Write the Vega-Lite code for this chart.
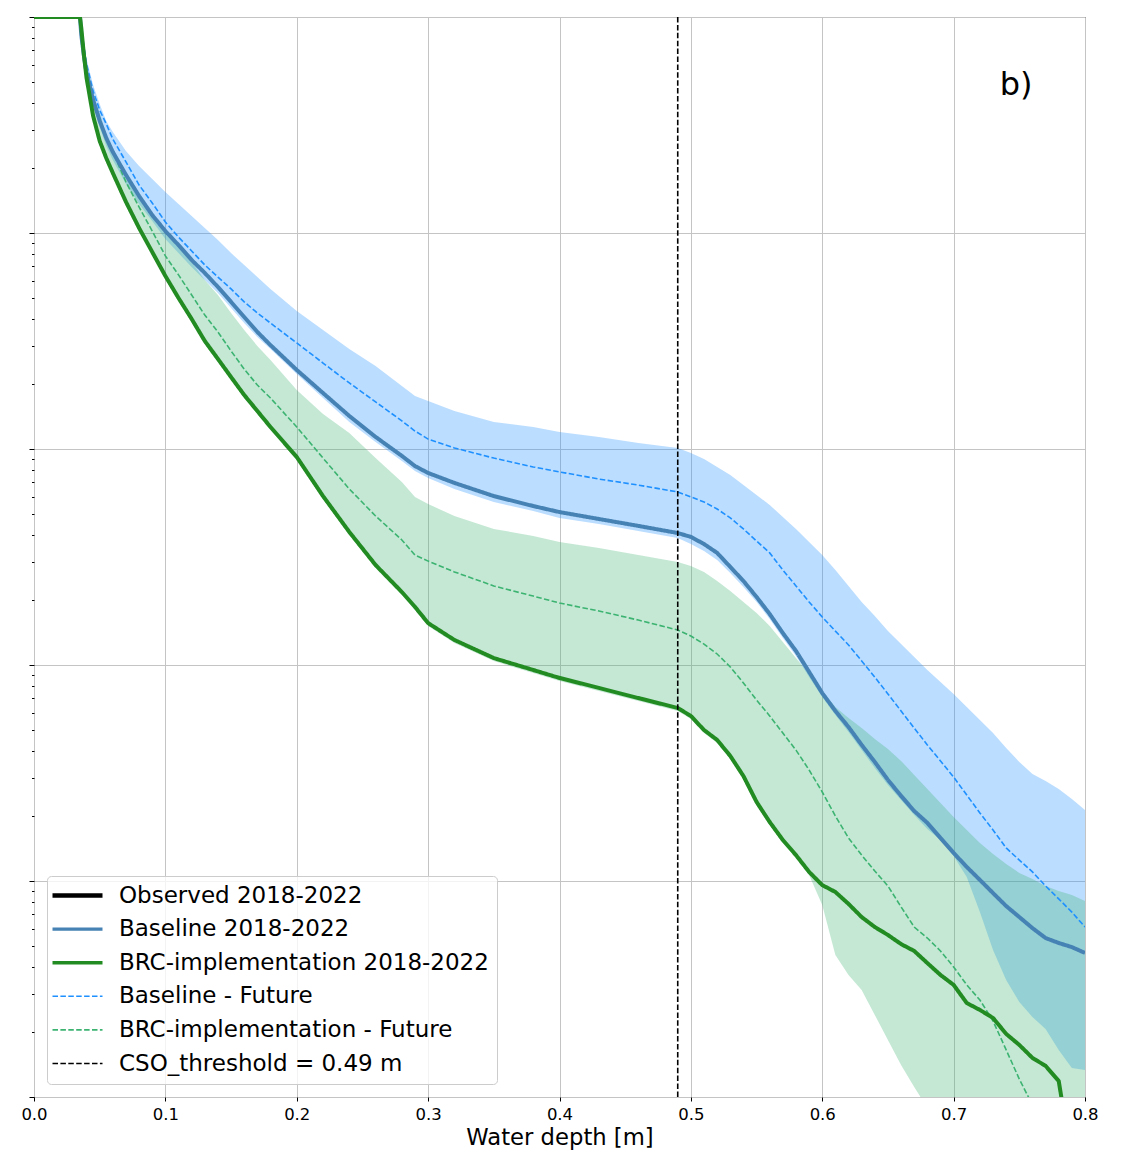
{
  "$schema": "https://vega.github.io/schema/vega-lite/v6.json",
  "width": 1051,
  "height": 1080,
  "autosize": {"type": "none"},
  "padding": {"left": 34, "top": 17, "right": 39, "bottom": 58},
  "background": "white",
  "config": {
    "font": "DejaVu Sans",
    "view": {"stroke": "black", "strokeWidth": 1},
    "axis": {"gridColor": "#c4c4c4", "gridWidth": 1, "tickColor": "black", "domainColor": "black", "labelColor": "black", "titleColor": "black"}
  },
  "datasets": {
    "curves": [
      {"x": 0, "base": 0, "bfut": 0, "bhi": 0, "blo": 0, "brc": 0, "gfut": 0, "ghi": 0, "glo": 0},
      {"x": 0.035, "base": 0, "bfut": 0, "bhi": 0, "blo": 0, "brc": 0, "gfut": 0, "ghi": 0, "glo": 0},
      {"x": 0.036, "base": -0.083, "bfut": -0.056, "bhi": -0.037, "blo": -0.069, "brc": -0.051, "gfut": -0.056, "ghi": -0.045, "glo": -0.065},
      {"x": 0.038, "base": -0.181, "bfut": -0.144, "bhi": -0.120, "blo": -0.167, "brc": -0.176, "gfut": -0.181, "ghi": -0.150, "glo": -0.190},
      {"x": 0.04, "base": -0.259, "bfut": -0.218, "bhi": -0.194, "blo": -0.250, "brc": -0.282, "gfut": -0.236, "ghi": -0.220, "glo": -0.296},
      {"x": 0.045, "base": -0.384, "bfut": -0.343, "bhi": -0.315, "blo": -0.394, "brc": -0.458, "gfut": -0.370, "ghi": -0.366, "glo": -0.472},
      {"x": 0.05, "base": -0.481, "bfut": -0.431, "bhi": -0.403, "blo": -0.509, "brc": -0.574, "gfut": -0.472, "ghi": -0.445, "glo": -0.588},
      {"x": 0.055, "base": -0.560, "bfut": -0.495, "bhi": -0.481, "blo": -0.597, "brc": -0.653, "gfut": -0.560, "ghi": -0.546, "glo": -0.667},
      {"x": 0.06, "base": -0.625, "bfut": -0.565, "bhi": -0.532, "blo": -0.662, "brc": -0.722, "gfut": -0.625, "ghi": -0.616, "glo": -0.736},
      {"x": 0.07, "base": -0.731, "bfut": -0.671, "bhi": -0.620, "blo": -0.773, "brc": -0.856, "gfut": -0.764, "ghi": -0.722, "glo": -0.870},
      {"x": 0.08, "base": -0.829, "bfut": -0.778, "bhi": -0.690, "blo": -0.866, "brc": -0.977, "gfut": -0.880, "ghi": -0.819, "glo": -0.991},
      {"x": 0.09, "base": -0.917, "bfut": -0.861, "bhi": -0.750, "blo": -0.944, "brc": -1.088, "gfut": -0.991, "ghi": -0.907, "glo": -1.102},
      {"x": 0.10, "base": -0.991, "bfut": -0.949, "bhi": -0.810, "blo": -1.028, "brc": -1.199, "gfut": -1.106, "ghi": -0.981, "glo": -1.213},
      {"x": 0.11, "base": -1.056, "bfut": -1.019, "bhi": -0.866, "blo": -1.093, "brc": -1.301, "gfut": -1.194, "ghi": -1.060, "glo": -1.315},
      {"x": 0.12, "base": -1.125, "bfut": -1.083, "bhi": -0.921, "blo": -1.157, "brc": -1.398, "gfut": -1.287, "ghi": -1.134, "glo": -1.412},
      {"x": 0.13, "base": -1.185, "bfut": -1.148, "bhi": -0.977, "blo": -1.218, "brc": -1.500, "gfut": -1.380, "ghi": -1.218, "glo": -1.514},
      {"x": 0.14, "base": -1.250, "bfut": -1.204, "bhi": -1.032, "blo": -1.278, "brc": -1.583, "gfut": -1.458, "ghi": -1.287, "glo": -1.597},
      {"x": 0.15, "base": -1.319, "bfut": -1.259, "bhi": -1.093, "blo": -1.347, "brc": -1.667, "gfut": -1.546, "ghi": -1.370, "glo": -1.681},
      {"x": 0.16, "base": -1.389, "bfut": -1.319, "bhi": -1.148, "blo": -1.417, "brc": -1.750, "gfut": -1.630, "ghi": -1.449, "glo": -1.764},
      {"x": 0.17, "base": -1.458, "bfut": -1.370, "bhi": -1.204, "blo": -1.481, "brc": -1.824, "gfut": -1.704, "ghi": -1.523, "glo": -1.838},
      {"x": 0.18, "base": -1.519, "bfut": -1.417, "bhi": -1.259, "blo": -1.537, "brc": -1.898, "gfut": -1.764, "ghi": -1.588, "glo": -1.912},
      {"x": 0.20, "base": -1.634, "bfut": -1.509, "bhi": -1.361, "blo": -1.653, "brc": -2.037, "gfut": -1.898, "ghi": -1.727, "glo": -2.051},
      {"x": 0.22, "base": -1.741, "bfut": -1.602, "bhi": -1.449, "blo": -1.764, "brc": -2.218, "gfut": -2.042, "ghi": -1.838, "glo": -2.232},
      {"x": 0.24, "base": -1.847, "bfut": -1.694, "bhi": -1.537, "blo": -1.875, "brc": -2.384, "gfut": -2.185, "ghi": -1.926, "glo": -2.398},
      {"x": 0.26, "base": -1.944, "bfut": -1.782, "bhi": -1.616, "blo": -1.968, "brc": -2.537, "gfut": -2.310, "ghi": -2.042, "glo": -2.551},
      {"x": 0.28, "base": -2.032, "bfut": -1.870, "bhi": -1.708, "blo": -2.056, "brc": -2.662, "gfut": -2.421, "ghi": -2.153, "glo": -2.676},
      {"x": 0.29, "base": -2.079, "bfut": -1.917, "bhi": -1.755, "blo": -2.102, "brc": -2.731, "gfut": -2.491, "ghi": -2.222, "glo": -2.745},
      {"x": 0.30, "base": -2.111, "bfut": -1.954, "bhi": -1.778, "blo": -2.134, "brc": -2.806, "gfut": -2.519, "ghi": -2.255, "glo": -2.820},
      {"x": 0.32, "base": -2.157, "bfut": -1.995, "bhi": -1.824, "blo": -2.185, "brc": -2.884, "gfut": -2.569, "ghi": -2.310, "glo": -2.898},
      {"x": 0.35, "base": -2.218, "bfut": -2.042, "bhi": -1.875, "blo": -2.245, "brc": -2.968, "gfut": -2.634, "ghi": -2.370, "glo": -2.982},
      {"x": 0.38, "base": -2.264, "bfut": -2.083, "bhi": -1.898, "blo": -2.287, "brc": -3.023, "gfut": -2.681, "ghi": -2.403, "glo": -3.037},
      {"x": 0.40, "base": -2.292, "bfut": -2.106, "bhi": -1.921, "blo": -2.319, "brc": -3.060, "gfut": -2.713, "ghi": -2.431, "glo": -3.074},
      {"x": 0.43, "base": -2.324, "bfut": -2.139, "bhi": -1.944, "blo": -2.347, "brc": -3.106, "gfut": -2.750, "ghi": -2.458, "glo": -3.120},
      {"x": 0.46, "base": -2.356, "bfut": -2.167, "bhi": -1.972, "blo": -2.380, "brc": -3.153, "gfut": -2.792, "ghi": -2.491, "glo": -3.167},
      {"x": 0.49, "base": -2.389, "bfut": -2.199, "bhi": -1.995, "blo": -2.412, "brc": -3.199, "gfut": -2.838, "ghi": -2.523, "glo": -3.213},
      {"x": 0.50, "base": -2.407, "bfut": -2.222, "bhi": -2.019, "blo": -2.440, "brc": -3.236, "gfut": -2.866, "ghi": -2.542, "glo": -3.250},
      {"x": 0.51, "base": -2.440, "bfut": -2.245, "bhi": -2.046, "blo": -2.472, "brc": -3.301, "gfut": -2.903, "ghi": -2.569, "glo": -3.315},
      {"x": 0.52, "base": -2.481, "bfut": -2.278, "bhi": -2.083, "blo": -2.514, "brc": -3.347, "gfut": -2.949, "ghi": -2.611, "glo": -3.361},
      {"x": 0.53, "base": -2.546, "bfut": -2.319, "bhi": -2.120, "blo": -2.574, "brc": -3.421, "gfut": -3.009, "ghi": -2.657, "glo": -3.435},
      {"x": 0.54, "base": -2.611, "bfut": -2.370, "bhi": -2.167, "blo": -2.639, "brc": -3.514, "gfut": -3.083, "ghi": -2.708, "glo": -3.528},
      {"x": 0.55, "base": -2.685, "bfut": -2.426, "bhi": -2.213, "blo": -2.708, "brc": -3.634, "gfut": -3.162, "ghi": -2.759, "glo": -3.648},
      {"x": 0.56, "base": -2.764, "bfut": -2.481, "bhi": -2.259, "blo": -2.787, "brc": -3.727, "gfut": -3.236, "ghi": -2.819, "glo": -3.741},
      {"x": 0.57, "base": -2.852, "bfut": -2.560, "bhi": -2.315, "blo": -2.875, "brc": -3.810, "gfut": -3.315, "ghi": -2.894, "glo": -3.824},
      {"x": 0.58, "base": -2.935, "bfut": -2.634, "bhi": -2.370, "blo": -2.958, "brc": -3.880, "gfut": -3.394, "ghi": -2.968, "glo": -3.894},
      {"x": 0.59, "base": -3.032, "bfut": -2.708, "bhi": -2.431, "blo": -3.056, "brc": -3.958, "gfut": -3.486, "ghi": -3.042, "glo": -3.972},
      {"x": 0.60, "base": -3.130, "bfut": -2.778, "bhi": -2.491, "blo": -3.148, "brc": -4.019, "gfut": -3.588, "ghi": -3.120, "glo": -4.111},
      {"x": 0.61, "base": -3.213, "bfut": -2.843, "bhi": -2.560, "blo": -3.231, "brc": -4.051, "gfut": -3.699, "ghi": -3.194, "glo": -4.343},
      {"x": 0.62, "base": -3.287, "bfut": -2.907, "bhi": -2.634, "blo": -3.310, "brc": -4.106, "gfut": -3.801, "ghi": -3.245, "glo": -4.435},
      {"x": 0.63, "base": -3.370, "bfut": -2.981, "bhi": -2.708, "blo": -3.394, "brc": -4.167, "gfut": -3.880, "ghi": -3.292, "glo": -4.505},
      {"x": 0.64, "base": -3.449, "bfut": -3.056, "bhi": -2.773, "blo": -3.477, "brc": -4.213, "gfut": -3.954, "ghi": -3.343, "glo": -4.620},
      {"x": 0.65, "base": -3.532, "bfut": -3.134, "bhi": -2.843, "blo": -3.556, "brc": -4.250, "gfut": -4.023, "ghi": -3.389, "glo": -4.736},
      {"x": 0.66, "base": -3.606, "bfut": -3.213, "bhi": -2.903, "blo": -3.625, "brc": -4.292, "gfut": -4.120, "ghi": -3.444, "glo": -4.852},
      {"x": 0.67, "base": -3.676, "bfut": -3.292, "bhi": -2.963, "blo": -3.694, "brc": -4.324, "gfut": -4.213, "ghi": -3.509, "glo": -4.954},
      {"x": 0.68, "base": -3.731, "bfut": -3.370, "bhi": -3.023, "blo": -3.759, "brc": -4.380, "gfut": -4.264, "ghi": -3.574, "glo": -5.05},
      {"x": 0.69, "base": -3.801, "bfut": -3.444, "bhi": -3.079, "blo": -3.810, "brc": -4.435, "gfut": -4.324, "ghi": -3.639, "glo": -5.5},
      {"x": 0.70, "base": -3.870, "bfut": -3.519, "bhi": -3.134, "blo": -3.884, "brc": -4.481, "gfut": -4.398, "ghi": -3.704, "glo": -5.5},
      {"x": 0.71, "base": -3.935, "bfut": -3.602, "bhi": -3.194, "blo": -3.981, "brc": -4.565, "gfut": -4.481, "ghi": -3.764, "glo": -5.5},
      {"x": 0.72, "base": -3.995, "bfut": -3.685, "bhi": -3.255, "blo": -4.144, "brc": -4.597, "gfut": -4.551, "ghi": -3.824, "glo": -5.5},
      {"x": 0.73, "base": -4.056, "bfut": -3.764, "bhi": -3.315, "blo": -4.319, "brc": -4.634, "gfut": -4.648, "ghi": -3.875, "glo": -5.5},
      {"x": 0.74, "base": -4.116, "bfut": -3.847, "bhi": -3.384, "blo": -4.458, "brc": -4.708, "gfut": -4.782, "ghi": -3.921, "glo": -5.5},
      {"x": 0.75, "base": -4.167, "bfut": -3.903, "bhi": -3.449, "blo": -4.560, "brc": -4.759, "gfut": -4.917, "ghi": -3.963, "glo": -5.5},
      {"x": 0.76, "base": -4.218, "bfut": -3.958, "bhi": -3.505, "blo": -4.630, "brc": -4.819, "gfut": -5.037, "ghi": -3.991, "glo": -5.5},
      {"x": 0.77, "base": -4.264, "bfut": -4.023, "bhi": -3.537, "blo": -4.685, "brc": -4.856, "gfut": -5.3, "ghi": -4.023, "glo": -5.5},
      {"x": 0.78, "base": -4.287, "bfut": -4.083, "bhi": -3.574, "blo": -4.782, "brc": -4.926, "gfut": -5.6, "ghi": -4.046, "glo": -5.5},
      {"x": 0.79, "base": -4.306, "bfut": -4.144, "bhi": -3.620, "blo": -4.866, "brc": -5.3, "gfut": -5.9, "ghi": -4.065, "glo": -5.5},
      {"x": 0.80, "base": -4.333, "bfut": -4.213, "bhi": -3.671, "blo": -4.875, "brc": -5.5, "gfut": -6.2, "ghi": -4.093, "glo": -5.5}
    ],
    "panel": [{"x": 0.7475, "lg": -0.361, "label": "b)"}],
    "threshold": [{"depth": 0.49, "name": "CSO_threshold = 0.49 m"}]
  },
  "layer": [
    {
      "data": {"name": "curves"},
      "mark": {"type": "area", "color": "#1e90ff", "opacity": 0.3, "clip": true},
      "encoding": {
        "x": {"field": "x", "type": "quantitative", "scale": {"domain": [0, 0.8], "nice": false, "zero": false},
          "axis": {"values": [0, 0.1, 0.2, 0.3, 0.4, 0.5, 0.6, 0.7, 0.8], "format": ".1f", "title": "Water depth [m]", "grid": true, "domain": false,
            "labelFontSize": 16.5, "labelPadding": 5, "tickSize": 4, "titleFontSize": 22.7, "titleFontWeight": "normal", "titlePadding": 4, "labelFlush": false}},
        "y": {"field": "bhi", "type": "quantitative", "scale": {"domain": [-5, 0], "nice": false, "zero": false},
          "axis": {"title": null, "labels": false, "domain": false, "grid": true, "tickCount": 200,
            "values": [-5, -4.69897, -4.52288, -4.39794, -4.30103, -4.22185, -4.1549, -4.09691, -4.04576, -4, -3.69897, -3.52288, -3.39794, -3.30103, -3.22185, -3.1549, -3.09691, -3.04576, -3, -2.69897, -2.52288, -2.39794, -2.30103, -2.22185, -2.1549, -2.09691, -2.04576, -2, -1.69897, -1.52288, -1.39794, -1.30103, -1.22185, -1.1549, -1.09691, -1.04576, -1, -0.69897, -0.52288, -0.39794, -0.30103, -0.22185, -0.1549, -0.09691, -0.04576, 0],
            "gridOpacity": {"condition": {"test": "abs(datum.value - round(datum.value)) < 0.000001", "value": 1}, "value": 0},
            "tickSize": {"condition": {"test": "abs(datum.value - round(datum.value)) < 0.000001", "value": 5}, "value": 2.5}}},
        "y2": {"field": "blo"}
      }
    },
    {
      "data": {"name": "curves"},
      "mark": {"type": "area", "color": "#3cb371", "opacity": 0.3, "clip": true},
      "encoding": {
        "x": {"field": "x", "type": "quantitative"},
        "y": {"field": "ghi", "type": "quantitative"},
        "y2": {"field": "glo"}
      }
    },
    {
      "data": {"name": "curves"},
      "mark": {"type": "line", "strokeWidth": 1.6, "clip": true},
      "encoding": {
        "x": {"field": "x", "type": "quantitative"},
        "y": {"field": "bfut", "type": "quantitative"},
        "color": {"datum": "Baseline - Future", "type": "nominal",
          "scale": {"domain": ["Observed 2018-2022", "Baseline 2018-2022", "BRC-implementation 2018-2022", "Baseline - Future", "BRC-implementation - Future", "CSO_threshold = 0.49 m"],
            "range": ["black", "#4682b4", "#228b22", "#1e90ff", "#3cb371", "black"]},
          "legend": {"title": null, "orient": "bottom-left", "offset": 13, "padding": 8,
            "symbolType": "M-2.5,0H2.5", "symbolSize": 400, "symbolOffset": 11, "labelOffset": 30, "symbolStrokeWidth": 2.6,
            "labelFontSize": 23, "labelColor": "black", "labelFont": "DejaVu Sans", "labelLimit": 1000,
            "rowPadding": 9.6, "fillColor": "rgba(255,255,255,0.8)", "strokeColor": "#cccccc", "cornerRadius": 4,
            "encode": {"symbols": {"update": {
              "strokeWidth": {"signal": "datum.value === 'Observed 2018-2022' ? 4.5 : ((datum.value === 'Baseline 2018-2022' || datum.value === 'BRC-implementation 2018-2022') ? 3.4 : 1.6)"}
            }}}}},
        "strokeDash": {"datum": "Baseline - Future", "type": "nominal", "title": null,
          "scale": {"domain": ["Observed 2018-2022", "Baseline 2018-2022", "BRC-implementation 2018-2022", "Baseline - Future", "BRC-implementation - Future", "CSO_threshold = 0.49 m"],
            "range": [[1, 0], [1, 0], [1, 0], [5.5, 2.4], [5.5, 2.4], [5.5, 2.4]]}}
      }
    },
    {
      "data": {"name": "curves"},
      "mark": {"type": "line", "strokeWidth": 1.6, "clip": true},
      "encoding": {
        "x": {"field": "x", "type": "quantitative"},
        "y": {"field": "gfut", "type": "quantitative"},
        "color": {"datum": "BRC-implementation - Future", "type": "nominal", "title": null},
        "strokeDash": {"datum": "BRC-implementation - Future", "type": "nominal", "title": null}
      }
    },
    {
      "data": {"name": "curves"},
      "mark": {"type": "line", "strokeWidth": 4, "clip": true},
      "encoding": {
        "x": {"field": "x", "type": "quantitative"},
        "y": {"field": "base", "type": "quantitative"},
        "color": {"datum": "Baseline 2018-2022", "type": "nominal", "title": null},
        "strokeDash": {"datum": "Baseline 2018-2022", "type": "nominal", "title": null}
      }
    },
    {
      "data": {"name": "curves"},
      "mark": {"type": "line", "strokeWidth": 4, "clip": true},
      "encoding": {
        "x": {"field": "x", "type": "quantitative"},
        "y": {"field": "brc", "type": "quantitative"},
        "color": {"datum": "BRC-implementation 2018-2022", "type": "nominal", "title": null},
        "strokeDash": {"datum": "BRC-implementation 2018-2022", "type": "nominal", "title": null}
      }
    },
    {
      "data": {"name": "threshold"},
      "mark": {"type": "rule", "strokeWidth": 1.6},
      "encoding": {
        "x": {"field": "depth", "type": "quantitative"},
        "color": {"field": "name", "type": "nominal", "title": null},
        "strokeDash": {"field": "name", "type": "nominal", "title": null}
      }
    },
    {
      "data": {"name": "panel"},
      "mark": {"type": "text", "fontSize": 32, "align": "center", "baseline": "alphabetic", "color": "black", "font": "DejaVu Sans"},
      "encoding": {
        "x": {"field": "x", "type": "quantitative"},
        "y": {"field": "lg", "type": "quantitative"},
        "text": {"field": "label"}
      }
    }
  ]
}
